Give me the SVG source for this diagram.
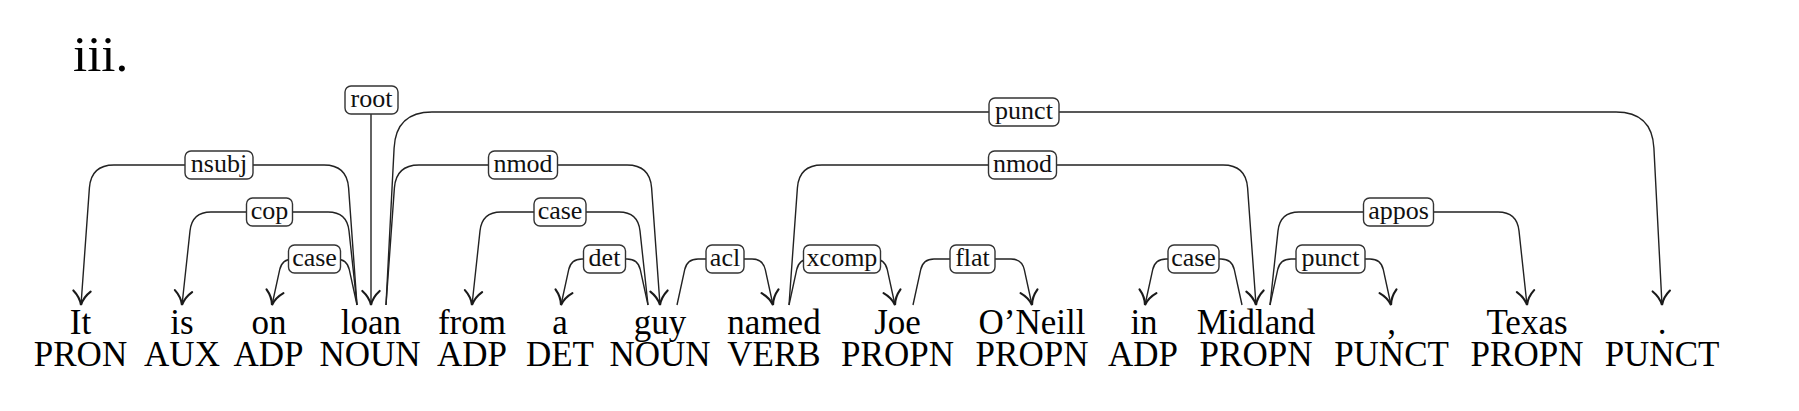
<svg xmlns="http://www.w3.org/2000/svg" width="1799" height="411" viewBox="0 0 1799 411">
<style>
.w{font-family:"Liberation Serif",serif;font-size:35px;fill:#000;text-anchor:middle}
.lbl rect{fill:#fff;stroke:#333;stroke-width:1.4}
.lbl text{font-family:"Liberation Serif",serif;font-size:26px;fill:#111;text-anchor:middle}
.e{fill:none;stroke:#222;stroke-width:1.4}
</style>
<defs>
<marker id="arr" markerUnits="userSpaceOnUse" orient="auto" refX="0" refY="0" markerWidth="24" markerHeight="24" viewBox="-14 -9 16 18" overflow="visible">
<path d="M-10.5,-6.5 C-7,-2.6 -3,-0.7 0,0 C-3,0.7 -7,2.6 -10.5,6.5" fill="none" stroke="#1a1a1a" stroke-width="1.6" stroke-linecap="round"/>
</marker>
</defs>
<rect width="1799" height="411" fill="#fff"/>
<text x="73" y="71" style="font-family:'Liberation Serif',serif;font-size:51px">iii.</text>

<g id="n-It"><text class="w" x="80.5" y="334">It</text><text class="w" x="80.5" y="366">PRON</text></g>
<g id="n-is"><text class="w" x="182" y="334">is</text><text class="w" x="182" y="366">AUX</text></g>
<g id="n-on"><text class="w" x="269" y="334">on</text><text class="w" x="268.5" y="366">ADP</text></g>
<g id="n-loan"><text class="w" x="371" y="334">loan</text><text class="w" x="370" y="366">NOUN</text></g>
<g id="n-from"><text class="w" x="472" y="334">from</text><text class="w" x="472" y="366">ADP</text></g>
<g id="n-a"><text class="w" x="560" y="334">a</text><text class="w" x="560" y="366">DET</text></g>
<g id="n-guy"><text class="w" x="660" y="334">guy</text><text class="w" x="660" y="366">NOUN</text></g>
<g id="n-named"><text class="w" x="774" y="334">named</text><text class="w" x="774" y="366">VERB</text></g>
<g id="n-Joe"><text class="w" x="897.5" y="334">Joe</text><text class="w" x="897.5" y="366">PROPN</text></g>
<g id="n-ONeill"><text class="w" x="1032" y="334">O’Neill</text><text class="w" x="1032" y="366">PROPN</text></g>
<g id="n-in"><text class="w" x="1144" y="334">in</text><text class="w" x="1143" y="366">ADP</text></g>
<g id="n-Midland"><text class="w" x="1256" y="334">Midland</text><text class="w" x="1256" y="366">PROPN</text></g>
<g id="n-comma"><text class="w" x="1391.5" y="334">,</text><text class="w" x="1391.5" y="366">PUNCT</text></g>
<g id="n-Texas"><text class="w" x="1527" y="334">Texas</text><text class="w" x="1527" y="366">PROPN</text></g>
<g id="n-period"><text class="w" x="1662" y="334">.</text><text class="w" x="1662" y="366">PUNCT</text></g>

<g id="connectors">
<path class="e" marker-end="url(#arr)" d="M371,114 L371,305"/>
<path class="e" marker-end="url(#arr)" d="M357,305 L348.6,187.9 Q347,165 324,165 L114,165 Q91,165 89.4,187.9 L81,305"/>
<path class="e" marker-end="url(#arr)" d="M357,305 L349,230.9 Q347,212 328,212 L211,212 Q192,212 190,230.9 L182,305"/>
<path class="e" marker-end="url(#arr)" d="M357,305 L349.3,269.7 Q347,259 336,259 L293,259 Q282,259 279.7,269.7 L272,305"/>
<path class="e" marker-end="url(#arr)" d="M386,305 L394.1,148 Q396,112 432,112 L1616,112 Q1652,112 1653.9,148 L1662,305"/>
<path class="e" marker-end="url(#arr)" d="M386,305 L394.4,187.9 Q396,165 419,165 L627,165 Q650,165 651.6,187.9 L660,305"/>
<path class="e" marker-end="url(#arr)" d="M648,305 L640,230.9 Q638,212 619,212 L501,212 Q482,212 480,230.9 L472,305"/>
<path class="e" marker-end="url(#arr)" d="M648,305 L640.3,269.7 Q638,259 627,259 L582,259 Q571,259 568.7,269.7 L561,305"/>
<path class="e" marker-end="url(#arr)" d="M677,305 L684.7,269.7 Q687,259 698,259 L752,259 Q763,259 765.3,269.7 L773,305"/>
<path class="e" marker-end="url(#arr)" d="M789,305 L796.7,269.7 Q799,259 810,259 L874,259 Q885,259 887.3,269.7 L895,305"/>
<path class="e" marker-end="url(#arr)" d="M789,305 L797.4,187.9 Q799,165 822,165 L1223,165 Q1246,165 1247.6,187.9 L1256,305"/>
<path class="e" marker-end="url(#arr)" d="M913,305 L920.7,269.7 Q923,259 934,259 L1011,259 Q1022,259 1024.3,269.7 L1032,305"/>
<path class="e" marker-end="url(#arr)" d="M1242,305 L1234.3,269.7 Q1232,259 1221,259 L1166,259 Q1155,259 1152.7,269.7 L1145,305"/>
<path class="e" marker-end="url(#arr)" d="M1270,305 L1277.7,269.7 Q1280,259 1291,259 L1370,259 Q1381,259 1383.3,269.7 L1391,305"/>
<path class="e" marker-end="url(#arr)" d="M1270,305 L1278,230.9 Q1280,212 1299,212 L1498,212 Q1517,212 1519,230.9 L1527,305"/>

<g class="lbl">
<rect x="345" y="86" width="53" height="28" rx="6"/><text x="371.5" y="106.5">root</text>
<rect x="185" y="151" width="68" height="28" rx="6"/><text x="219" y="171.5">nsubj</text>
<rect x="246.5" y="198" width="46" height="28" rx="6"/><text x="269.5" y="218.5">cop</text>
<rect x="288.5" y="245" width="52" height="28" rx="6"/><text x="314.5" y="265.5">case</text>
<rect x="989" y="98" width="70" height="28" rx="6"/><text x="1024" y="118.5">punct</text>
<rect x="488.5" y="151" width="69" height="28" rx="6"/><text x="523" y="171.5">nmod</text>
<rect x="534" y="198" width="52" height="28" rx="6"/><text x="560" y="218.5">case</text>
<rect x="583.5" y="245" width="42" height="28" rx="6"/><text x="604.5" y="265.5">det</text>
<rect x="706" y="245" width="38" height="28" rx="6"/><text x="725" y="265.5">acl</text>
<rect x="803.5" y="245" width="77" height="28" rx="6"/><text x="842" y="265.5">xcomp</text>
<rect x="988.5" y="151" width="68" height="28" rx="6"/><text x="1022.5" y="171.5">nmod</text>
<rect x="950" y="245" width="45" height="28" rx="6"/><text x="972.5" y="265.5">flat</text>
<rect x="1168" y="245" width="51" height="28" rx="6"/><text x="1193.5" y="265.5">case</text>
<rect x="1296" y="245" width="69" height="28" rx="6"/><text x="1330.5" y="265.5">punct</text>
<rect x="1363.5" y="198" width="70" height="28" rx="6"/><text x="1398.5" y="218.5">appos</text>
</g>
</g>
</svg>
